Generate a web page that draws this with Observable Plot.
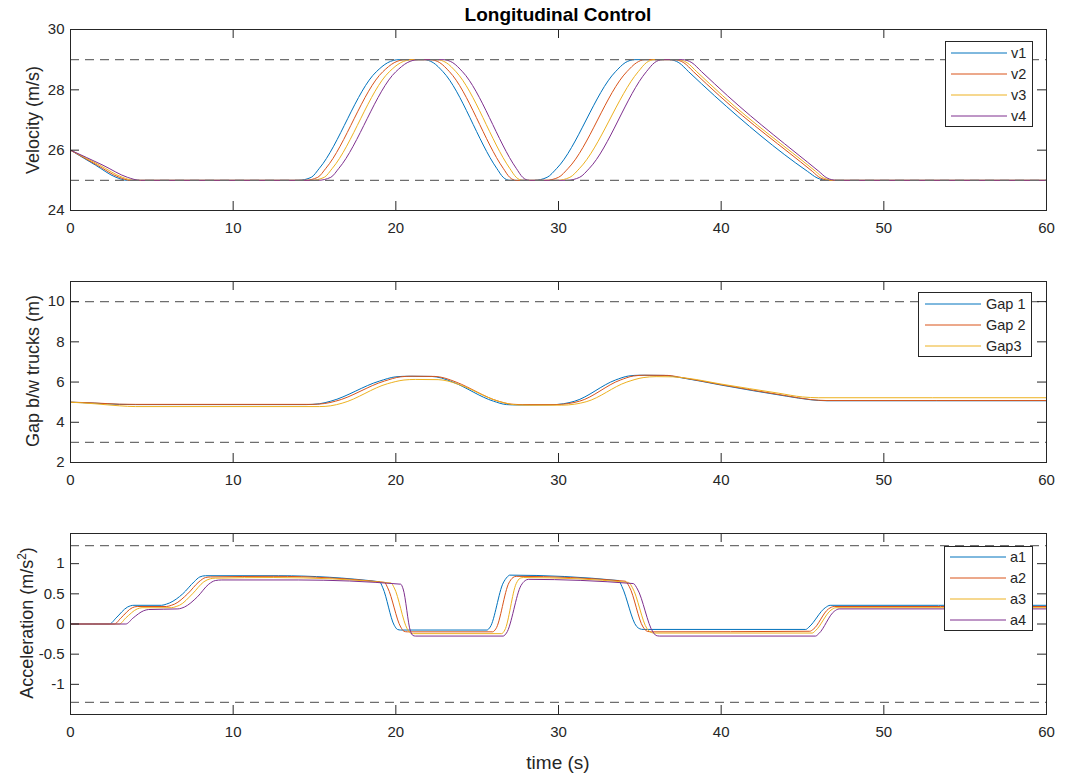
<!DOCTYPE html>
<html>
<head>
<meta charset="utf-8">
<script src="https://cdn.jsdelivr.net/npm/d3@7"></script>
<script src="https://cdn.jsdelivr.net/npm/@observablehq/plot@0.6"></script>
<style>
  body { margin: 0; background: #fff; font-family: "Liberation Sans", Arial, sans-serif; color: #262626; }
  #root { position: relative; width: 1067px; height: 779px; overflow: hidden; background: #fff; }
  .panel { position: absolute; left: 0; }
  .title { position: absolute; transform: translate(-50%, -50%); font-weight: bold; font-size: 19px; color: #000; white-space: nowrap; }
  .xlab { position: absolute; transform: translate(-50%, -50%); font-size: 19px; white-space: nowrap; }
  .ylab { position: absolute; transform: translate(-50%, -50%) rotate(-90deg); font-size: 18px; white-space: nowrap; }
  .ylab sup { font-size: 12px; vertical-align: 7px; line-height: 0; }
  .legend { position: absolute; background: #fff; border: 1px solid #262626; box-sizing: border-box; font-size: 14.5px; }
  .legend svg { position: absolute; overflow: visible; }
  .legend span { position: absolute; transform: translateY(-50%); white-space: nowrap; }
</style>
</head>
<body>
<div id="root"></div>
<script>
// ---------- shared axis values ----------
const xTicks = [0, 10, 20, 30, 40, 50, 60];
const colors4 = ["#0072BD", "#D95319", "#EDB120", "#7E2F8E"];

// ---------- Velocity panel ----------
const velNames = ["v1", "v2", "v3", "v4"];
const velTicks = [24, 26, 28, 30];
const velLimits = [25, 29];
const velLevels = [26, 25.5, 25.1, 25.0, 25.0, 25.1, 25.4, 28.6, 28.9, 29.0, 29.0, 28.9, 28.6, 25.4, 25.1, 25.0,
                   25.0, 25.1, 25.4, 28.6, 28.9, 29.0, 29.0, 28.9, 28.6, 27.8, 25.3, 25.08, 25.0, 25.0];
const v1_t = [0, 1.55, 2.8, 3.5, 14.0, 14.8, 15.3, 18.8, 19.5, 20.2, 21.7, 22.3, 22.9, 26.2, 26.6, 27.0,
              28.5, 29.3, 29.9, 33.5, 34.1, 34.7, 36.8, 37.4, 38.0, 39.6, 45.3, 45.9, 46.5, 60];
const v2_t = [0, 1.65, 3.0, 3.7, 14.4, 15.2, 15.7, 19.2, 19.9, 20.6, 22.1, 22.7, 23.3, 26.6, 27.0, 27.4,
              29.2, 30.0, 30.6, 34.2, 34.8, 35.3, 37.1, 37.7, 38.3, 39.9, 45.6, 46.1, 46.7, 60];
const v3_t = [0, 1.8, 3.2, 3.9, 14.8, 15.6, 16.1, 19.6, 20.3, 21.0, 22.5, 23.1, 23.7, 27.0, 27.4, 27.8,
              29.9, 30.7, 31.3, 34.9, 35.4, 35.9, 37.3, 37.9, 38.5, 40.1, 45.8, 46.3, 46.9, 60];
const v4_t = [0, 2.0, 3.5, 4.3, 15.2, 16.0, 16.5, 20.0, 20.7, 21.4, 22.9, 23.5, 24.1, 27.4, 27.8, 28.2,
              30.5, 31.3, 31.9, 35.4, 35.9, 36.4, 37.6, 38.2, 38.8, 40.4, 46.0, 46.5, 47.1, 60];

// ---------- Gap panel ----------
const gapNames = ["Gap 1", "Gap 2", "Gap3"];
const gapTicks = [2, 4, 6, 8, 10];
const gapLimits = [3, 10];
const gap1_t = [0, 1.5, 3, 4, 14.5, 15.3, 16, 19, 20, 20.8, 22.2, 22.8, 23.5, 26, 26.8, 27.5, 29.5, 30.3, 31, 33.5, 34.3, 35, 36.5, 37.5, 40, 44, 45.5, 46.5, 60];
const gap1_v = [5.0, 4.95, 4.89, 4.88, 4.88, 4.92, 5.05, 6.05, 6.26, 6.29, 6.28, 6.2, 6.0, 5.05, 4.88, 4.86, 4.87, 4.92, 5.05, 6.1, 6.3, 6.34, 6.33, 6.22, 5.85, 5.3, 5.12, 5.07, 5.07];
const gap2_t = [0, 1.5, 3, 4, 14.8, 15.6, 16.3, 19.3, 20.3, 21, 22.4, 23, 23.7, 26.3, 27.1, 27.8, 29.8, 30.6, 31.3, 33.8, 34.6, 35.3, 36.7, 37.6, 40, 44, 45.5, 46.5, 60];
const gap2_v = [5.0, 4.96, 4.9, 4.89, 4.89, 4.93, 5.05, 6.05, 6.26, 6.29, 6.28, 6.2, 6.0, 5.05, 4.9, 4.88, 4.88, 4.93, 5.05, 6.1, 6.3, 6.34, 6.33, 6.22, 5.87, 5.32, 5.13, 5.08, 5.08];
const gap3_t = [0, 1.5, 3, 4, 15.3, 16, 16.7, 19.5, 20.5, 21.2, 22.6, 23.2, 23.9, 26.6, 27.5, 28.2, 30.2, 31, 31.7, 34.2, 35.2, 36, 37, 38, 40, 43.5, 45, 46, 60];
const gap3_v = [5.0, 4.92, 4.82, 4.78, 4.78, 4.82, 4.95, 5.92, 6.1, 6.13, 6.12, 6.05, 5.87, 4.98, 4.86, 4.85, 4.85, 4.9, 5.02, 6.0, 6.22, 6.27, 6.26, 6.18, 5.9, 5.45, 5.26, 5.22, 5.22];

// ---------- Acceleration panel ----------
const accNames = ["a1", "a2", "a3", "a4"];
const accTicks = [-1, -0.5, 0, 0.5, 1];
const accLimits = [-1.3, 1.3];
const a1_t = [0, 2.4, 2.8, 3.5, 3.9, 5.6, 5.9, 6.1, 6.9, 7.6, 7.95, 8.3, 12.8, 19.0, 19.2, 19.9, 20.1, 20.3, 25.6, 25.8, 26.6, 26.85, 27.0, 33.7, 33.9, 34.8, 35.0, 35.2, 45.2, 45.4, 46.4, 46.7, 60];
const a1_v = [0, 0, 0.1, 0.28, 0.31, 0.31, 0.33, 0.35, 0.5, 0.7, 0.78, 0.8, 0.8, 0.7, 0.6, -0.02, -0.09, -0.1, -0.1, -0.05, 0.68, 0.78, 0.81, 0.72, 0.62, -0.04, -0.08, -0.09, -0.09, -0.05, 0.27, 0.31, 0.31];
const a2_t = [0, 2.7, 3.1, 3.8, 4.1, 5.9, 6.2, 6.4, 7.2, 7.9, 8.3, 8.6, 12.5, 19.3, 19.5, 20.3, 20.5, 20.7, 25.95, 26.15, 26.95, 27.2, 27.4, 34.1, 34.35, 35.2, 35.45, 35.7, 45.45, 45.65, 46.6, 46.95, 60];
const a2_v = [0, 0, 0.1, 0.27, 0.29, 0.29, 0.31, 0.33, 0.5, 0.7, 0.77, 0.78, 0.79, 0.69, 0.6, -0.05, -0.12, -0.13, -0.13, -0.08, 0.68, 0.77, 0.79, 0.71, 0.62, -0.05, -0.12, -0.13, -0.12, -0.09, 0.25, 0.29, 0.29];
const a3_t = [0, 3.0, 3.4, 4.1, 4.4, 6.2, 6.5, 6.7, 7.5, 8.2, 8.6, 8.9, 12.5, 19.7, 19.9, 20.7, 20.9, 21.1, 26.5, 26.7, 27.4, 27.65, 27.85, 34.3, 34.55, 35.45, 35.7, 35.9, 45.6, 45.8, 46.75, 47.05, 60];
const a3_v = [0, 0, 0.1, 0.25, 0.27, 0.27, 0.29, 0.31, 0.5, 0.7, 0.75, 0.76, 0.77, 0.68, 0.6, -0.08, -0.15, -0.16, -0.16, -0.1, 0.67, 0.76, 0.77, 0.69, 0.6, -0.08, -0.14, -0.15, -0.15, -0.11, 0.23, 0.27, 0.27];
const a4_t = [0, 3.4, 3.85, 4.5, 4.8, 6.6, 6.8, 7.0, 7.8, 8.5, 8.9, 9.3, 14.0, 20.3, 20.45, 20.9, 21.05, 21.2, 26.6, 26.8, 27.7, 27.95, 28.15, 34.6, 34.85, 35.8, 36.0, 36.2, 45.8, 46.0, 46.95, 47.25, 60];
const a4_v = [0, 0, 0.1, 0.22, 0.24, 0.25, 0.26, 0.28, 0.45, 0.66, 0.72, 0.73, 0.73, 0.66, 0.58, -0.12, -0.19, -0.2, -0.2, -0.15, 0.64, 0.72, 0.74, 0.67, 0.58, -0.13, -0.19, -0.2, -0.2, -0.16, 0.21, 0.25, 0.25];

// ---------- build tidy rows ----------
function rowsOf(names, times, values) {
  const out = [];
  names.forEach((name, i) => {
    times[i].forEach((t, j) => out.push({series: name, t, v: values[i][j]}));
  });
  return out;
}
const velRows = rowsOf(velNames, [v1_t, v2_t, v3_t, v4_t], [velLevels, velLevels, velLevels, velLevels]);
const gapRows = rowsOf(gapNames, [gap1_t, gap2_t, gap3_t], [gap1_v, gap2_v, gap3_v]);
const accRows = rowsOf(accNames, [a1_t, a2_t, a3_t, a4_t], [a1_v, a2_v, a3_v, a4_v]);

// ---------- layout ----------
const W = 1067, H = 250, ML = 70, MR = 21, MT = 29, MB = 40;
const FW = W - ML - MR, FH = H - MT - MB;
const AX = "#262626";

function makePanel(rows, names, colors, yDomain, yTicks, limits) {
  return Plot.plot({
    width: W, height: H,
    marginLeft: ML, marginRight: MR, marginTop: MT, marginBottom: MB,
    style: {fontFamily: "'Liberation Sans', Arial, sans-serif", fontSize: "15px", color: AX, background: "transparent"},
    x: {domain: [0, 60]},
    y: {domain: yDomain},
    color: {domain: names, range: colors},
    marks: [
      Plot.line(rows, {x: "t", y: "v", z: "series", stroke: "series", strokeWidth: 1, curve: "monotone-x"}),
      Plot.ruleY(limits, {y: d => d, stroke: "#6e6e6e", strokeWidth: 1.2, strokeDasharray: "9,6"}),
      Plot.ruleX(xTicks, {x: d => d, insetTop: FH - 9, stroke: AX}),
      Plot.ruleX(xTicks, {x: d => d, insetBottom: FH - 9, stroke: AX}),
      Plot.ruleY(yTicks, {y: d => d, insetRight: FW - 9, stroke: AX}),
      Plot.ruleY(yTicks, {y: d => d, insetLeft: FW - 9, stroke: AX}),
      Plot.frame({stroke: AX}),
      Plot.axisX({ticks: xTicks, tickSize: 0, tickPadding: 12, tickFormat: d => String(d), label: null}),
      Plot.axisY({ticks: yTicks, tickSize: 0, tickPadding: 6, tickFormat: d => String(d), label: null})
    ]
  });
}

const root = document.getElementById("root");
function place(el, top) { el.classList.add("panel"); el.style.top = top + "px"; root.appendChild(el); }
place(makePanel(velRows, velNames, colors4, [24, 30], velTicks, velLimits), 0);
place(makePanel(gapRows, gapNames, colors4.slice(0, 3), [2, 11], gapTicks, gapLimits), 252);
place(makePanel(accRows, accNames, colors4, [-1.5, 1.5], accTicks, accLimits), 504);

function addDiv(cls, html, x, y) {
  const d = document.createElement("div");
  d.className = cls; d.innerHTML = html;
  d.style.left = x + "px"; d.style.top = y + "px";
  root.appendChild(d);
}
addDiv("title", "Longitudinal Control", 558, 15);
addDiv("ylab", "Velocity (m/s)", 33, 120);
addDiv("ylab", "Gap b/w trucks (m)", 33, 371);
addDiv("ylab", "Acceleration (m/s<sup>2</sup>)", 27, 623);
addDiv("xlab", "time (s)", 558, 763);

function legend(names, colors, left, top, width, height, x1, x2, tx) {
  const box = document.createElement("div");
  box.className = "legend";
  Object.assign(box.style, {left: left + "px", top: top + "px", width: width + "px", height: height + "px"});
  const rh = (height - 2) / names.length;
  names.forEach((n, i) => {
    const cy = rh * (i + 0.5);
    const svg = document.createElementNS("http://www.w3.org/2000/svg", "svg");
    svg.setAttribute("width", x2 - x1); svg.setAttribute("height", 2);
    svg.style.left = x1 + "px"; svg.style.top = (cy - 1) + "px";
    const ln = document.createElementNS("http://www.w3.org/2000/svg", "line");
    ln.setAttribute("x1", 0); ln.setAttribute("x2", x2 - x1);
    ln.setAttribute("y1", 1); ln.setAttribute("y2", 1);
    ln.setAttribute("stroke", colors[i]); ln.setAttribute("stroke-width", 1);
    svg.appendChild(ln);
    box.appendChild(svg);
    const sp = document.createElement("span");
    sp.textContent = n; sp.style.left = tx + "px"; sp.style.top = cy + "px";
    box.appendChild(sp);
  });
  root.appendChild(box);
}
legend(velNames, colors4, 945, 41, 88, 86, 5, 61, 65);
legend(gapNames, colors4, 918, 292, 114, 65, 6, 62, 67);
legend(accNames, colors4, 944, 546, 89, 85, 5, 61, 65);
</script>
</body>
</html>
